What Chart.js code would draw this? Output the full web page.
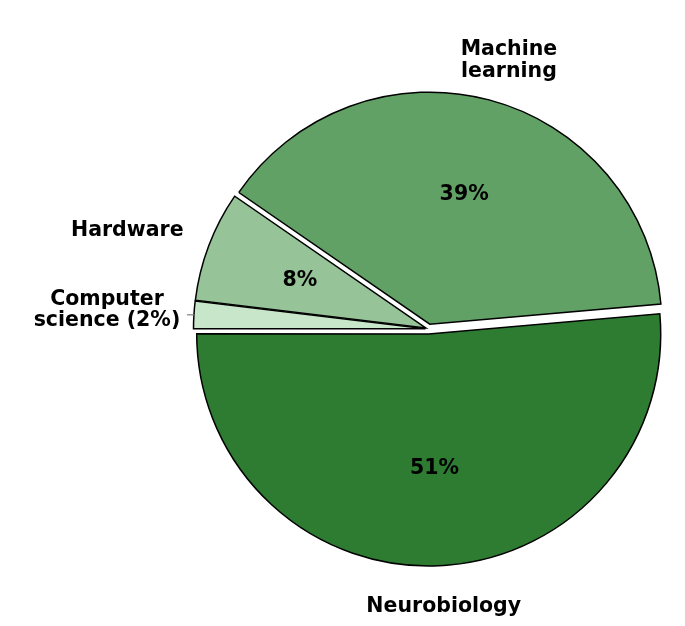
<!DOCTYPE html>
<html>
<head>
<meta charset="utf-8">
<script src="https://cdn.jsdelivr.net/npm/chart.js@4"></script>
<style>
  html, body { margin: 0; padding: 0; background: #fff; }
  canvas { display: block; }
</style>
</head>
<body>
<canvas id="pieChart" width="685" height="626"></canvas>
<script>
// Slices in clockwise drawing order, starting just above 3 o'clock
const categories = ["Neurobiology", "Computer science", "Hardware", "Machine learning"];
const shares = [51.4, 1.9, 7.7, 39.0];
const outerLabels = [["Neurobiology"], ["Computer", "science (2%)"], ["Hardware"], ["Machine", "learning"]];
const showInsidePct = [true, false, true, true];

const sliceColors = ["#2e7b32", "#c8e6c9", "#96c398", "#62a166"];
const explode = [5, 3, 3, 5];
// label anchor: distance factor along mid-angle, alignment, small nudge
const labelLayout = [
  { k: 1.1, align: "center", dx: 4, dy: 18 },
  { k: 1.1, align: "right", dx: 9.5, dy: -3 },
  { k: 1.1, align: "right", dx: -3.5, dy: -6.5 },
  { k: 1.1, align: "center", dx: 14, dy: -17 },
];
const pctDistance = 0.58;
const labelFont = "bold 20.5px 'DejaVu Sans'";
const lineHeight = 21.5;

function slicePivot(arc, i) {
  const mid = (arc.startAngle + arc.endAngle) / 2;
  return {
    mid: mid,
    x: arc.x + Math.cos(mid) * explode[i],
    y: arc.y + Math.sin(mid) * explode[i],
  };
}

// draw every wedge moved out along its own mid-angle
const explodePlugin = {
  id: "explode",
  beforeDatasetDraw(chart, args) {
    const ctx = chart.ctx;
    args.meta.data.forEach((arc, i) => {
      const p = slicePivot(arc, i);
      ctx.save();
      ctx.translate(p.x - arc.x, p.y - arc.y);
      arc.draw(ctx);
      ctx.restore();
    });
    return false;
  },
};

const labelPlugin = {
  id: "pieLabels",
  afterDraw(chart) {
    const ctx = chart.ctx;
    const meta = chart.getDatasetMeta(0);
    const total = shares.reduce((a, b) => a + b, 0);
    ctx.save();
    ctx.font = labelFont;
    ctx.fillStyle = "#000";
    ctx.textBaseline = "middle";
    ctx.textAlign = "center";

    meta.data.forEach((arc, i) => {
      const p = slicePivot(arc, i);
      const r = arc.outerRadius;

      // percentage inside the wedge
      if (showInsidePct[i]) {
        const pct = Math.round((shares[i] / total) * 100) + "%";
        ctx.fillText(pct, p.x + Math.cos(p.mid) * r * pctDistance, p.y + Math.sin(p.mid) * r * pctDistance + 0.5);
      }

      // category label outside
      const lay = labelLayout[i];
      const ax = p.x + Math.cos(p.mid) * r * lay.k + lay.dx;
      const ay = p.y + Math.sin(p.mid) * r * lay.k + lay.dy;
      const lines = outerLabels[i];
      const w = Math.max(...lines.map((t) => ctx.measureText(t).width));
      let cx = ax;
      if (lay.align === "right") cx = ax - w / 2;
      if (lay.align === "left") cx = ax + w / 2;
      const top = ay - ((lines.length - 1) * lineHeight) / 2;
      lines.forEach((t, j) => ctx.fillText(t, cx, top + j * lineHeight));

      // short leader for the thin slice
      if (!showInsidePct[i]) {
        const ex = p.x + Math.cos(p.mid) * r;
        const ey = p.y + Math.sin(p.mid) * r;
        ctx.strokeStyle = "#808080";
        ctx.lineWidth = 1.2;
        ctx.beginPath();
        ctx.moveTo(ex, ey);
        ctx.lineTo(ex - 7, ey);
        ctx.stroke();
      }
    });
    ctx.restore();
  },
};

new Chart(document.getElementById("pieChart"), {
  type: "pie",
  data: {
    labels: categories,
    datasets: [
      {
        data: shares,
        backgroundColor: sliceColors,
        borderColor: "#000",
        borderWidth: 1.5,
        borderJoinStyle: "miter",
      },
    ],
  },
  options: {
    responsive: false,
    animation: false,
    rotation: 85,
    radius: 232,
    layout: { padding: { left: 172, top: 32, right: 0, bottom: 0 } },
    plugins: {
      legend: { display: false },
      tooltip: { enabled: false },
    },
  },
  plugins: [explodePlugin, labelPlugin],
});
</script>
</body>
</html>
